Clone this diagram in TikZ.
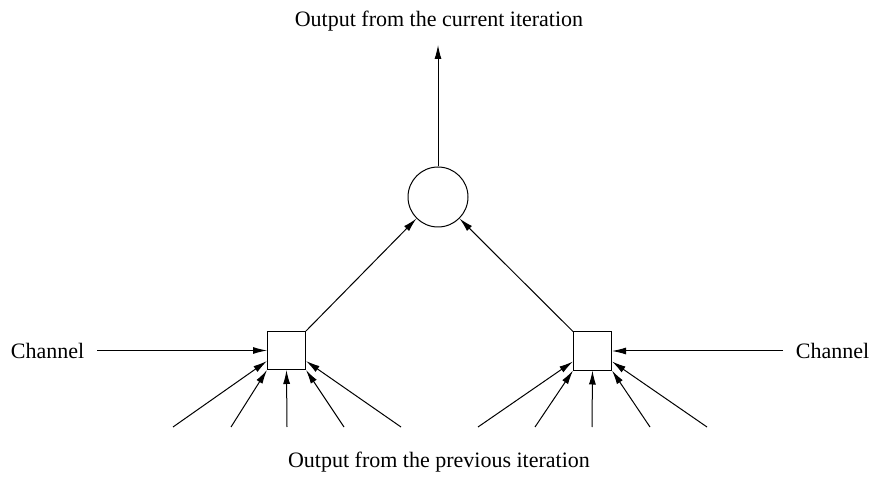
\documentclass[tikz,border=0pt]{standalone}
\usepackage{fontspec}
\setmainfont{Liberation Serif}
\usetikzlibrary{arrows.meta}
\begin{document}
\begin{tikzpicture}[x=1pt,y=-1pt,
  line width=1pt,
  arr/.style={-{Latex[length=14pt,width=7pt]}},
  cell/.style={draw,minimum size=38pt,inner sep=0pt},
  sum/.style={draw,circle,minimum size=60pt,inner sep=0pt},
  lbl/.style={font=\fontsize{22pt}{25pt}\selectfont,inner sep=0pt}]
\useasboundingbox (0,0) rectangle (871,481);
% processing units
\node[sum]  (c) at (438,197) {};
\node[cell] (L) at (286.5,350.5) {};
\node[cell] (R) at (592.5,351) {};
% labels
\node[lbl] (top) at (439,21) {Output from the current iteration};
\node[lbl] (bot) at (439,462) {Output from the previous iteration};
\node[lbl] (chl) at (47.5,351) {Channel};
\node[lbl] (chr) at (832.5,351) {Channel};
% free ends
\coordinate (up) at (438,45);
\coordinate (cl) at (97,350.5);
\coordinate (cr) at (783,351);
\foreach \i/\x in {1/173,2/231,3/287,4/344,5/401}{\coordinate (l\i) at (\x,427);}
\foreach \i/\x in {1/478,2/535,3/592,4/650,5/707}{\coordinate (r\i) at (\x,427);}
% connectors
\draw[arr] (c.north) -- (up);
\draw[arr] (L.north east) -- (c.225);
\draw[arr] (R.north west) -- (c.315);
\draw[arr] (cl) -- (L.west);
\draw[arr] (cr) -- (R.east);
\draw[arr] (l1) -- ([yshift=9pt]L.south west);
\draw[arr] (l2) -- (L.south west);
\draw[arr] (l3) -- (L.south);
\draw[arr] (l4) -- (L.south east);
\draw[arr] (l5) -- ([yshift=9pt]L.south east);
\draw[arr] (r1) -- ([yshift=9pt]R.south west);
\draw[arr] (r2) -- (R.south west);
\draw[arr] (r3) -- (R.south);
\draw[arr] (r4) -- (R.south east);
\draw[arr] (r5) -- ([yshift=9pt]R.south east);
\end{tikzpicture}
\end{document}
